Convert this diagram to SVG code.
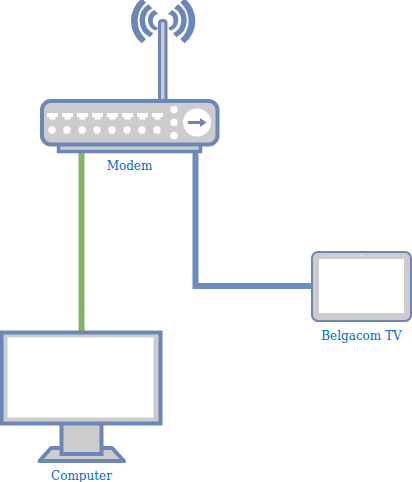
<svg xmlns="http://www.w3.org/2000/svg" width="412" height="482" viewBox="0 0 412 482">
<style>
.o{stroke:#6c86b8;fill:#ccc}
.w{fill:#fff}
.a{fill:#6c86b8}
text{font-family:"DejaVu Serif",serif;font-size:12px;fill:#0066cc;text-anchor:middle}
.l{fill:none;stroke-width:6}
</style>
<defs>
<path id="waves" d="M141.700 43.300A28.700 28.700 0 0 1 141.700 -1.500L146 2.500A24.500 24.500 0 0 0 146 39.300Z M150 37.300A19 19 0 0 1 148.300 4.300L152.300 8.300A14 14 0 0 0 153.300 33.300Z M155.700 30.700A11.200 11.200 0 0 1 154.300 10L158.300 14A7 7 0 0 0 158.300 27.700Z"/>
</defs>
<rect width="412" height="482" fill="#fff"/>
<g id="connectors">
<path class="l" stroke="#82b366" d="M81.500 152V331"/>
<path class="l" stroke="#6c8ebf" d="M195.500 152V286H312"/>
</g>
<g id="modem">
<use href="#waves" class="a"/>
<use href="#waves" class="a" transform="matrix(-1 0 0 1 326.300 0)"/>
<path class="o" stroke-width="3" d="M159.500 102V23Q159.500 20.500 162.700 20.500Q166 20.500 166 23V102Z"/>
<rect class="o" x="58.500" y="144" width="142" height="7.500" stroke-width="3.500"/>
<rect class="o" x="42" y="101" width="175.500" height="43.500" rx="9" stroke-width="4"/>
<path class="w" id="ports" d="M47 113h11v4h-2.500v2.500h-6v-2.500h-2.500zM62 113h11v4h-2.500v2.500h-6v-2.500h-2.500zM77 113h11v4h-2.500v2.500h-6v-2.500h-2.500zM92 113h11v4h-2.500v2.500h-6v-2.500h-2.500zM107 113h11v4h-2.500v2.500h-6v-2.500h-2.500zM122 113h11v4h-2.500v2.500h-6v-2.500h-2.500zM137 113h11v4h-2.500v2.500h-6v-2.500h-2.500zM152 113h11v4h-2.500v2.500h-6v-2.500h-2.500z"/>
<g class="w">
<circle cx="52" cy="130" r="3.700"/><circle cx="67" cy="130" r="3.700"/><circle cx="82" cy="130" r="3.700"/><circle cx="97" cy="130" r="3.700"/><circle cx="112" cy="130" r="3.700"/><circle cx="127" cy="130" r="3.700"/><circle cx="142" cy="130" r="3.700"/><circle cx="157" cy="130" r="3.700"/>
<circle cx="174" cy="109.500" r="3.700"/><circle cx="174" cy="122.500" r="3.700"/><circle cx="174" cy="135.500" r="3.700"/>
<circle cx="197" cy="122.500" r="14"/>
</g>
<path fill="#6c86b8" d="M188 121H200V118L206.500 122.500L200 127V124H188Z"/>
<text x="129.500" y="170">Modem</text>
</g>
<g id="computer">
<path class="o" stroke-width="4" stroke-linejoin="round" d="M39.500 461L51 448H112L124 461Z"/>
<rect class="o" x="61.500" y="423" width="40" height="31" stroke-width="4"/>
<rect class="o" x="1.500" y="332.500" width="159" height="91" stroke-width="4"/>
<rect class="w" x="7.500" y="337.500" width="146" height="80"/>
<text x="81.500" y="480">Computer</text>
</g>
<g id="tv">
<rect class="o" x="312" y="252" width="99" height="69" rx="6" stroke-width="2"/>
<rect class="w" x="319" y="259" width="85" height="54"/>
<circle class="w" cx="361.500" cy="255.500" r="0.700"/>
<text x="361.500" y="340">Belgacom TV</text>
</g>
</svg>
